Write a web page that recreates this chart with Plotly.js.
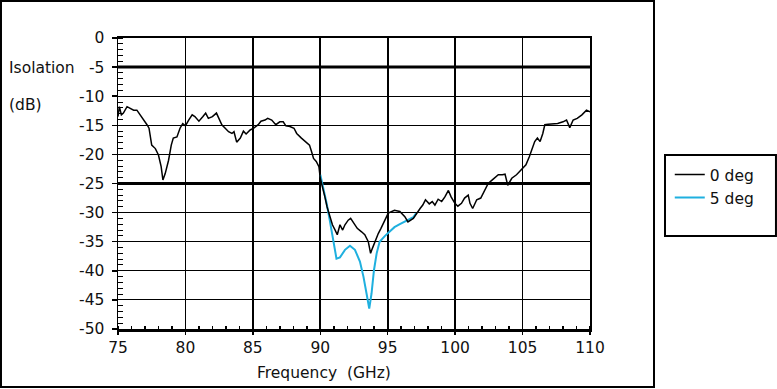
<!DOCTYPE html>
<html>
<head>
<meta charset="utf-8">
<script src="https://cdn.plot.ly/plotly-3.0.1.min.js"></script>
<style>
  html, body { margin: 0; padding: 0; background: #fff; }
  #chart { width: 777px; height: 389px; }
</style>
</head>
<body>
<div id="chart"></div>
<script>
// ---- data ----
const seriesNames = ["0 deg", "5 deg"];

const freq0 = [
  75.0, 75.1, 75.25, 75.4, 75.67, 75.9, 76.16, 76.4, 76.65, 76.9,
  77.15, 77.3, 77.5, 77.77, 78.0, 78.2, 78.33, 78.5, 78.75, 78.95,
  79.1, 79.37, 79.6, 79.8, 80.0, 80.24, 80.5, 80.7, 81.0, 81.3,
  81.5, 81.7, 82.0, 82.3, 82.5, 82.7, 82.95, 83.2, 83.45, 83.6,
  83.8, 84.07, 84.3, 84.5, 84.8, 85.06, 85.4, 85.6, 85.9, 86.1,
  86.4, 86.7, 87.0, 87.25, 87.45, 87.75, 88.05, 88.25, 88.6, 88.9,
  89.2, 89.35, 89.5, 89.7, 89.9, 90.0, 90.17, 90.34, 90.5, 90.7,
  90.9, 91.1, 91.26, 91.46, 91.66, 91.83, 92.07, 92.25, 92.5, 92.74,
  93.06, 93.3, 93.56, 93.73, 93.87, 94.05, 94.3, 94.5, 94.8, 95.04,
  95.5, 95.9, 96.27, 96.5, 96.9, 97.14, 97.4, 97.6, 97.8, 98.08,
  98.3, 98.5, 98.74, 99.0, 99.24, 99.5, 99.7, 99.98, 100.2, 100.47,
  100.7, 100.97, 101.1, 101.3, 101.6, 101.9, 102.2, 102.45, 102.8, 103.2,
  103.5, 103.7, 103.9, 104.2, 104.55, 104.9, 105.25, 105.5, 105.66, 105.9,
  106.1, 106.3, 106.5, 106.65, 106.9, 107.27, 107.6, 108.0, 108.26, 108.5,
  108.75, 109.05, 109.4, 109.74, 110.0
];
const iso0 = [
  -13.5, -11.8, -13.2, -12.9, -11.8, -12.1, -12.4, -12.4, -13.2, -13.9,
  -14.9, -15.5, -18.4, -19.0, -20.1, -22.1, -24.4, -23.3, -21.0, -18.4,
  -17.2, -17.0, -15.5, -14.7, -15.1, -14.1, -13.2, -13.5, -14.3, -13.5,
  -12.9, -13.8, -13.5, -12.9, -13.8, -14.9, -15.5, -16.1, -16.4, -16.1,
  -17.9, -17.2, -16.0, -16.5, -15.8, -15.5, -14.9, -14.3, -14.1, -13.8,
  -14.1, -14.9, -14.4, -14.4, -15.1, -15.2, -15.5, -16.4, -17.2, -17.8,
  -18.4, -19.5, -20.7, -21.2, -22.1, -24.1, -25.5, -27.3, -29.0, -30.7,
  -32.1, -33.0, -33.8, -32.1, -33.0, -32.1, -31.3, -31.0, -31.8, -32.7,
  -33.3, -33.8, -35.0, -37.0, -36.1, -35.0, -33.6, -32.7, -31.3, -30.1,
  -29.6, -29.8, -30.7, -31.6, -31.0, -30.1, -29.3, -28.7, -27.8, -28.5,
  -28.1, -28.7, -27.7, -28.1, -27.3, -26.2, -27.3, -28.4, -28.9, -28.4,
  -27.5, -27.0, -28.4, -29.3, -27.8, -27.5, -26.0, -25.0, -24.3, -23.5,
  -23.5, -23.4, -25.3, -24.1, -23.5, -22.7, -21.8, -20.4, -19.2, -17.8,
  -17.2, -17.8, -16.4, -14.9, -14.8, -14.8, -14.7, -14.4, -14.1, -15.4,
  -14.1, -13.8, -13.2, -12.4, -12.7
];

const freq5 = [
  90.0, 90.2, 90.47, 90.7, 90.96, 91.2, 91.46, 91.83, 92.2, 92.57,
  92.94, 93.2, 93.43, 93.63, 93.8, 93.98, 94.18, 94.4, 94.8, 95.16,
  95.5, 95.9, 96.4, 96.9, 97.1
];
const iso5 = [
  -23.5, -25.5, -28.4, -31.3, -34.7, -37.9, -37.7, -36.4, -35.7, -36.4,
  -38.4, -41.0, -43.9, -46.5, -43.9, -39.9, -37.0, -35.0, -34.0, -33.2,
  -32.5, -32.0, -31.4, -30.8, -30.1
];

const xTicks = [75, 80, 85, 90, 95, 100, 105, 110];
const yTicks = [0, -5, -10, -15, -20, -25, -30, -35, -40, -45, -50];
const boldLevels = [-5, -25];

// ---- chart ----
const FONT = '"DejaVu Sans", "Liberation Sans", Arial, sans-serif';
const FS = 15.5;
const traces = [
  { x: freq5, y: iso5, name: seriesNames[1], type: 'scatter', mode: 'lines',
    line: { color: '#1fb0df', width: 2 } },
  { x: freq0, y: iso0, name: seriesNames[0], type: 'scatter', mode: 'lines',
    line: { color: '#000000', width: 1.5 } }
];

const shapes = boldLevels.map(v => ({
  type: 'line', xref: 'paper', yref: 'y', x0: 0, x1: 1, y0: v, y1: v,
  line: { color: '#000', width: 3 }, layer: 'below'
}));
// outer frame
shapes.push({ type: 'rect', xref: 'paper', yref: 'paper',
  x0: -0.2479, x1: 1.1356, y0: -0.1993, y1: 1.1271,
  line: { color: '#000', width: 2 }, layer: 'below' });
// legend box
shapes.push({ type: 'rect', xref: 'paper', yref: 'paper',
  x0: 1.1589, x1: 1.394, y0: 0.3196, y1: 0.598,
  line: { color: '#000', width: 2 }, layer: 'below' });

const layout = {
  width: 777, height: 389,
  margin: { l: 118, r: 187, t: 38, b: 60 },
  paper_bgcolor: '#fff', plot_bgcolor: '#fff',
  font: { family: FONT, size: FS, color: '#111' },
  showlegend: true,
  legend: { x: 1.169, y: 0.588, xanchor: 'left', yanchor: 'top',
    traceorder: 'reversed', bgcolor: 'rgba(0,0,0,0)', borderwidth: 0,
    font: { family: FONT, size: FS, color: '#111' } },
  xaxis: {
    range: [75, 110], tickvals: xTicks, ticktext: xTicks.map(String),
    showgrid: true, gridcolor: '#000', gridwidth: 1.6,
    showline: true, linecolor: '#000', linewidth: 2.5, mirror: true,
    ticks: 'outside', ticklen: 3, tickcolor: '#000', tickwidth: 1.5,
    minor: { dtick: 1, ticks: 'inside', ticklen: 3, tickcolor: '#000', tickwidth: 1.5, showgrid: false },
    zeroline: false, fixedrange: true
  },
  yaxis: {
    range: [-50, 0], tickvals: yTicks, ticktext: yTicks.map(String),
    showgrid: true, gridcolor: '#000', gridwidth: 1.2,
    showline: true, linecolor: '#000', linewidth: 1.5, mirror: true,
    ticks: 'outside', ticklen: 5, tickcolor: '#000', tickwidth: 1.5,
    ticklabelstandoff: 4,
    minor: { dtick: 1, ticks: 'inside', ticklen: 5, tickcolor: '#000', tickwidth: 1, showgrid: false },
    zeroline: false, fixedrange: true
  },
  shapes: shapes,
  annotations: [
    { text: 'Isolation', xref: 'paper', yref: 'paper', x: -0.235, y: 0.897,
      xanchor: 'left', yanchor: 'middle', showarrow: false, font: { size: FS } },
    { text: '(dB)', xref: 'paper', yref: 'paper', x: -0.235, y: 0.770,
      xanchor: 'left', yanchor: 'middle', showarrow: false, font: { size: FS } },
    { text: 'Frequency&nbsp;&nbsp;(GHz)', xref: 'paper', yref: 'paper', x: 0.436, y: -0.151,
      xanchor: 'center', yanchor: 'middle', showarrow: false, font: { size: FS } }
  ]
};

Plotly.newPlot('chart', traces, layout, { staticPlot: true, displayModeBar: false });
</script>
</body>
</html>
